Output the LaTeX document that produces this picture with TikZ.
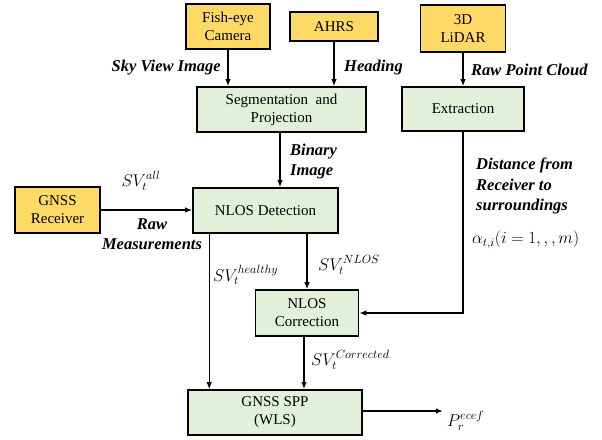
\documentclass[tikz,border=0pt]{standalone}
\usepackage{fix-cm}
\usepackage{fontspec}
\setmainfont{Liberation Serif}
\usetikzlibrary{arrows.meta,calc}
\definecolor{boxyellow}{HTML}{FFD966}
\definecolor{boxgreen}{HTML}{E2F0D9}
\tikzset{
  base/.style={draw=black, line width=1.6pt, align=center, inner sep=0pt,
    font=\fontsize{15}{18}\selectfont},
  ybox/.style={base, fill=boxyellow},
  gbox/.style={base, fill=boxgreen},
  arr/.style={line width=1.3pt, -{Latex[length=7pt,width=5.5pt]}},
  lbl/.style={font=\fontsize{16.5}{20}\selectfont\bfseries\itshape, inner sep=0pt, align=left},
  mlbl/.style={font=\fontsize{17}{20}\selectfont, inner sep=0pt},
}
\begin{document}
\begin{tikzpicture}[x=1pt,y=-1pt]
\useasboundingbox (0,0) rectangle (602,439);
% nodes
\node[ybox, minimum width=84pt, minimum height=45pt] (cam) at (228,26.5) {Fish-eye\\Camera};
\node[ybox, minimum width=88pt, minimum height=29pt] (ahrs) at (334,26.5) {AHRS};
\node[ybox, minimum width=85pt, minimum height=47pt] (lidar) at (463,28.5) {3D\\LiDAR};
\node[gbox, minimum width=169pt, minimum height=45pt] (seg) at (281.5,109.5) {Segmentation\ \ and\\Projection};
\node[gbox, minimum width=122pt, minimum height=44pt] (ext) at (463,109) {Extraction};
\node[ybox, minimum width=85pt, minimum height=46pt] (rec) at (57.5,210) {GNSS\\Receiver};
\node[gbox, minimum width=145pt, minimum height=45pt] (det) at (265.5,210.5) {NLOS Detection};
\node[gbox, minimum width=103pt, minimum height=46pt] (corr) at (307,313) {NLOS\\Correction};
\node[gbox, minimum width=174pt, minimum height=45pt] (spp) at (275,412.5) {GNSS SPP\\(WLS)};
\node[mlbl, anchor=west] (P) at (447,421) {$P_r^{ecef}$};
% labels
\node[lbl, anchor=east] (l1) at (221,68) {Sky View Image};
\node[lbl, anchor=west] (l2) at (344,68) {Heading};
\node[lbl, anchor=west] (l3) at (471,70) {Raw Point Cloud};
\node[lbl, anchor=west] (l4) at (290,162) {Binary\\Image};
\node[mlbl] (l5) at (141,181) {$SV_t^{all}$};
\node[lbl, align=center] (l6) at (152,234) {Raw\\Measurements};
\node[mlbl, anchor=west] (l7) at (213,275) {$SV_t^{healthy}$};
\node[mlbl, anchor=west] (l8) at (318,265) {$SV_t^{NLOS}$};
\node[lbl, anchor=north west, font=\fontsize{16.5}{20.5}\selectfont\bfseries\itshape] (l9) at (476,158) {Distance from\\Receiver to\\surroundings};
\node[mlbl, anchor=west] (l10) at (472,240) {$\alpha_{t,i}(i=1,,,m)$};
\node[mlbl, anchor=west] (l11) at (311,360) {$SV_t^{Corrected}$};
% connectors
\draw[arr] (cam.south) -- (cam.south |- seg.north);
\draw[arr] (ahrs.south) -- (ahrs.south |- seg.north);
\draw[arr] (lidar.south) -- (lidar.south |- ext.north);
\draw[arr] ([xshift=-1.5pt]seg.south) -- ([xshift=-1.5pt]seg.south |- det.north);
\draw[arr] (rec.east) -- (rec.east -| det.west);
\draw[arr] (corr.north |- det.south) -- (corr.north);
\draw[arr] ([xshift=17pt]det.south west) -- ([xshift=17pt]det.south west |- spp.north);
\draw[arr] (ext.south) |- (corr.east);
\draw[arr] ([xshift=-3pt]corr.south) -- ([xshift=-3pt]corr.south |- spp.north);
\draw[arr, shorten >=4pt] ([yshift=1.5pt]spp.east) -- ([yshift=1.5pt]spp.east -| P.west);
\end{tikzpicture}
\end{document}
